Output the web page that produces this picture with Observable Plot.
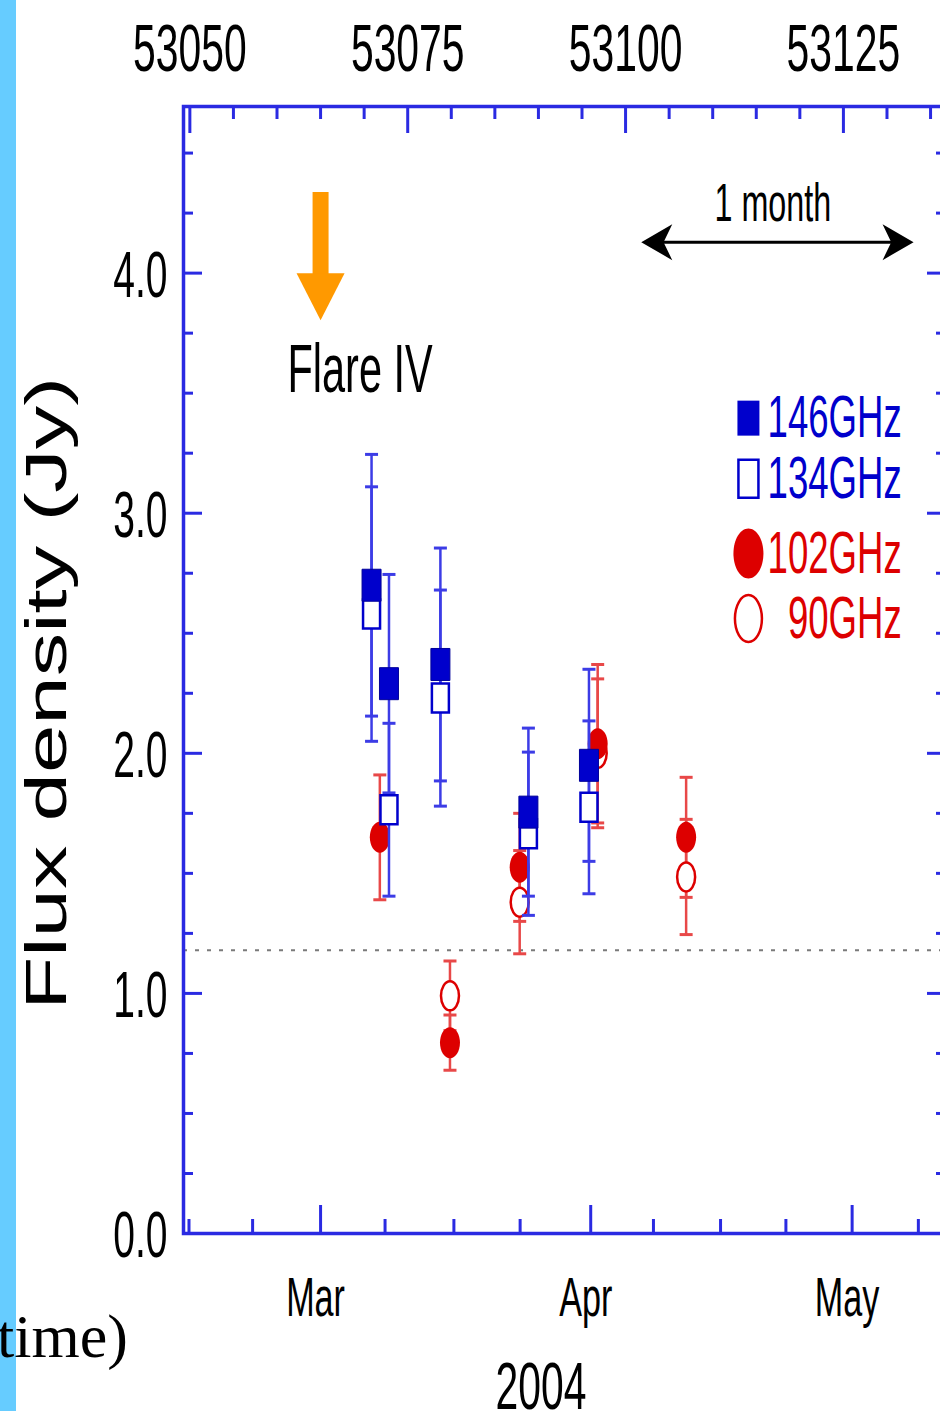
<!DOCTYPE html>
<html><head><meta charset="utf-8">
<script src="https://cdn.jsdelivr.net/npm/d3@7"></script>
<script src="https://cdn.jsdelivr.net/npm/@observablehq/plot@0.6"></script>
<style>
html,body{margin:0;padding:0;background:#fff;overflow:hidden;}
#wrap{position:relative;width:940px;height:1411px;overflow:hidden;background:#fff;}
#chart{position:absolute;left:0;top:0;}
#strip{position:absolute;left:0;top:0;width:16px;height:1411px;background:#66ccff;}
#side{position:absolute;left:-3px;top:1305px;font-family:"Liberation Serif","Times New Roman",serif;font-size:62px;line-height:1;color:#000;white-space:nowrap;}
</style></head><body>
<div id="wrap"><div id="chart"></div><div id="strip"></div><div id="side">time)</div></div>
<script>
// ---------------- data ----------------
const mjd146  = [53070.85, 53072.85, 53078.75, 53088.85, 53095.8];
const flux146 = [2.70, 2.29, 2.37, 1.755, 1.95];
const err146  = [0.545, 0.455, 0.485, 0.35, 0.40];

const mjd134  = [53070.85, 53072.85, 53078.75, 53088.85, 53095.8];
const flux134 = [2.58, 1.765, 2.23, 1.665, 1.775];
const err134  = [0.53, 0.36, 0.45, 0.34, 0.36];

const mjd102  = [53071.8, 53079.85, 53087.85, 53096.8, 53106.95];
const flux102 = [1.65, 0.795, 1.525, 2.04, 1.65];
const err102  = [0.26, 0.115, 0.225, 0.33, 0.25];

const mjd90   = [53079.85, 53087.85, 53096.8, 53106.95];
const flux90  = [0.99, 1.38, 2.0, 1.485];
const err90   = [0.145, 0.215, 0.31, 0.24];

const seriesNames = ["146GHz", "134GHz", "102GHz", "90GHz"];

const topTickValues = [53050, 53075, 53100, 53125];
const topMinorTicks = [53055, 53060, 53065, 53070, 53080, 53085, 53090, 53095, 53105, 53110, 53115, 53120, 53130, 53135];
const monthTicks = [53065, 53096, 53126];
const monthLabels = ["Mar", "Apr", "May"];
const monthMinorTicks = [53049.9, 53057.2, 53072.4, 53080.3, 53087.9, 53103.2, 53110.9, 53118.4, 53133.6];
const yearLabel = "2004";
const yearLabelMjd = 53090.3;
const yMajorTicks = [0, 1, 2, 3, 4];
const yMinorTicks = [0.25, 0.5, 0.75, 1.25, 1.5, 1.75, 2.25, 2.5, 2.75, 3.25, 3.5, 3.75, 4.25, 4.5];
const yTitle = "Flux density (Jy)";
const quiescentLevel = 1.18;

const flareName = "Flare IV";
const flareMjd = 53065;
const monthSpanLabel = "1 month";
const monthSpanStart = 53101.8, monthSpanEnd = 53133.05, monthSpanLabelMjd = 53116.9;

// ---------------- tables ----------------
const mk = (mjd, flux, err) => mjd.map((m, i) => ({mjd: m, flux: flux[i], lo: flux[i] - err[i], hi: flux[i] + err[i]}));
const s146 = mk(mjd146, flux146, err146);
const s134 = mk(mjd134, flux134, err134);
const s102 = mk(mjd102, flux102, err102);
const s90  = mk(mjd90, flux90, err90);

// ---------------- styles / symbols ----------------
const BLUE = "#0000cc", RED = "#dd0000";
const BLUE_ERR = "#3c3ce6", RED_ERR = "#e84848";
const FRAME = "#2a2ae2", ORANGE = "#ff9900";
const rectSym = (w, h) => ({draw(c) { c.rect(-w / 2, -h / 2, w, h); }});
const ellSym = (rx, ry) => ({draw(c) {
  const k = 0.5523;
  c.moveTo(rx, 0);
  c.bezierCurveTo(rx, ry * k, rx * k, ry, 0, ry);
  c.bezierCurveTo(-rx * k, ry, -rx, ry * k, -rx, 0);
  c.bezierCurveTo(-rx, -ry * k, -rx * k, -ry, 0, -ry);
  c.bezierCurveTo(rx * k, -ry, rx, -ry * k, rx, 0);
  c.closePath();
}});
const capSym = (w) => ({draw(c) { c.moveTo(-w / 2, 0); c.lineTo(w / 2, 0); }});
const triDown = (w, h) => ({draw(c) { c.moveTo(-w / 2, 0); c.lineTo(w / 2, 0); c.lineTo(0, h); c.closePath(); }});
const headSym = (dir, L, W) => ({draw(c) {
  c.moveTo(0, 0); c.lineTo(dir * L, -W / 2); c.lineTo(dir * L * 0.72, 0); c.lineTo(dir * L, W / 2); c.closePath();
}});

const W = 946, H = 1411, mL = 183, mR = 2, mT = 106, mB = 178;
const frameW = W - mL - mR, frameH = H - mT - mB;

const errMarks = (data, color) => [
  Plot.ruleX(data, {x: "mjd", y1: "lo", y2: "hi", stroke: color, strokeWidth: 2.5}),
  Plot.dot(data, {x: "mjd", y: "lo", symbol: capSym(13), stroke: color, strokeWidth: 3, fill: "none"}),
  Plot.dot(data, {x: "mjd", y: "hi", symbol: capSym(13), stroke: color, strokeWidth: 3, fill: "none"})
];

// legend anchor (data units inside the frame)
const legendMarkX = 53114.1, legendTextX = 53131.7;
const legendRowY = [3.396, 3.144, 2.832, 2.561];

const plot = Plot.plot({
  width: W, height: H,
  marginLeft: mL, marginRight: mR, marginTop: mT, marginBottom: mB,
  x: {domain: [53049.27, 53136.6], axis: null},
  y: {domain: [0, 4.694], axis: null},
  style: {fontFamily: "'Liberation Sans', Arial, Helvetica, sans-serif", color: "black", background: "transparent", maxWidth: "none"},
  marks: [
    Plot.ruleY([quiescentLevel], {y: d => d, stroke: "#7a7a7a", strokeWidth: 2, strokeDasharray: "4,8"}),
    // red series
    ...errMarks(s90, RED_ERR),
    ...errMarks(s102, RED_ERR),
    Plot.dot(s90, {x: "mjd", y: "flux", symbol: ellSym(9, 14.5), fill: "white", stroke: RED, strokeWidth: 2.5}),
    Plot.dot(s102, {x: "mjd", y: "flux", symbol: ellSym(10, 15.5), fill: RED, stroke: "none"}),
    // blue series
    ...errMarks(s134, BLUE_ERR),
    ...errMarks(s146, BLUE_ERR),
    Plot.dot(s134, {x: "mjd", y: "flux", symbol: rectSym(17, 29), fill: "white", stroke: BLUE, strokeWidth: 2.5}),
    Plot.dot(s146, {x: "mjd", y: "flux", symbol: rectSym(19, 32), fill: BLUE, stroke: "#00009a", strokeWidth: 1}),
    // frame and ticks
    Plot.frame({stroke: FRAME, strokeWidth: 3.5}),
    Plot.ruleX(topTickValues, {x: d => d, stroke: FRAME, strokeWidth: 3, insetBottom: frameH - 27}),
    Plot.ruleX(topMinorTicks, {x: d => d, stroke: FRAME, strokeWidth: 3, insetBottom: frameH - 13}),
    Plot.ruleX(monthTicks, {x: d => d, stroke: FRAME, strokeWidth: 3, insetTop: frameH - 28}),
    Plot.ruleX(monthMinorTicks, {x: d => d, stroke: FRAME, strokeWidth: 3, insetTop: frameH - 14}),
    Plot.ruleY(yMajorTicks, {y: d => d, stroke: FRAME, strokeWidth: 3, insetRight: frameW - 19}),
    Plot.ruleY(yMinorTicks, {y: d => d, stroke: FRAME, strokeWidth: 3, insetRight: frameW - 10}),
    Plot.ruleY(yMajorTicks, {y: d => d, stroke: FRAME, strokeWidth: 3, insetLeft: frameW - 17}),
    Plot.ruleY(yMinorTicks, {y: d => d, stroke: FRAME, strokeWidth: 3, insetLeft: frameW - 8}),
    // tick labels
    Plot.text(topTickValues, {x: d => d, frameAnchor: "top", dy: -36, lineAnchor: "bottom", textAnchor: "middle", text: d => String(d), fontSize: 67, fill: "black"}),
    Plot.text(yMajorTicks, {y: d => d, frameAnchor: "left", dx: -16, dy: 3, lineAnchor: "middle", textAnchor: "end", text: d => d.toFixed(1), fontSize: 64, fill: "black"}),
    Plot.text(monthTicks, {x: d => d, frameAnchor: "bottom", dy: 82, dx: -5, lineAnchor: "bottom", textAnchor: "middle", text: (d, i) => monthLabels[i], fontSize: 56, fill: "black"}),
    Plot.text([yearLabel], {x: () => yearLabelMjd, frameAnchor: "bottom", dy: 175, lineAnchor: "bottom", textAnchor: "middle", text: d => d, fontSize: 67, fill: "black"}),
    Plot.text([yTitle], {y: () => 2.25, frameAnchor: "left", dx: -118, rotate: -90, lineAnchor: "bottom", textAnchor: "middle", text: d => d, fontSize: 58, fill: "black"}),
    // flare annotation
    Plot.ruleX([flareMjd], {x: d => d, y1: () => 4.336, y2: () => 3.99, stroke: ORANGE, strokeWidth: 16}),
    Plot.dot([flareMjd], {x: d => d, y: () => 4.0, symbol: triDown(48, 47), fill: ORANGE, stroke: "none"}),
    Plot.text([flareName], {x: () => 53061.2, y: () => 3.504, textAnchor: "start", lineAnchor: "bottom", text: d => d, fontSize: 68, fill: "black"}),
    // 1 month scale arrow
    Plot.ruleY([4.129], {y: d => d, x1: () => monthSpanStart + 2, x2: () => monthSpanEnd - 2, stroke: "black", strokeWidth: 3}),
    Plot.dot([monthSpanStart], {x: d => d, y: () => 4.129, symbol: headSym(1, 31, 36), fill: "black", stroke: "none"}),
    Plot.dot([monthSpanEnd], {x: d => d, y: () => 4.129, symbol: headSym(-1, 31, 36), fill: "black", stroke: "none"}),
    Plot.text([monthSpanLabel], {x: () => monthSpanLabelMjd, y: () => 4.219, lineAnchor: "bottom", textAnchor: "middle", text: d => d, fontSize: 53, fill: "black"}),
    // legend
    Plot.dot([seriesNames[0]], {x: () => legendMarkX, y: () => legendRowY[0], symbol: rectSym(22, 35), fill: BLUE, stroke: "none"}),
    Plot.dot([seriesNames[1]], {x: () => legendMarkX, y: () => legendRowY[1], symbol: rectSym(20, 38), fill: "white", stroke: BLUE, strokeWidth: 2.5}),
    Plot.dot([seriesNames[2]], {x: () => legendMarkX, y: () => legendRowY[2], symbol: ellSym(15, 25), fill: RED, stroke: "none"}),
    Plot.dot([seriesNames[3]], {x: () => legendMarkX, y: () => legendRowY[3], symbol: ellSym(13.5, 23.5), fill: "white", stroke: RED, strokeWidth: 2.5}),
    Plot.text(seriesNames.slice(0, 2), {x: () => legendTextX, y: (d, i) => legendRowY[i], textAnchor: "end", lineAnchor: "middle", text: d => d, fontSize: 60, fill: BLUE}),
    Plot.text(seriesNames.slice(2), {x: () => legendTextX, y: (d, i) => legendRowY[i + 2], textAnchor: "end", lineAnchor: "middle", text: d => d, fontSize: 60, fill: RED})
  ]
});

// condensed-looking text, as in the original figure (Plot positions texts with transform)
plot.querySelectorAll("text").forEach(t => {
  const s = t.textContent === yTitle ? "scale(1.5,1)" : "scale(0.61,1)";
  const tr = t.getAttribute("transform") || "";
  t.setAttribute("transform", `${tr} ${s}`);
});
document.getElementById("chart").appendChild(plot);
</script></body></html>
